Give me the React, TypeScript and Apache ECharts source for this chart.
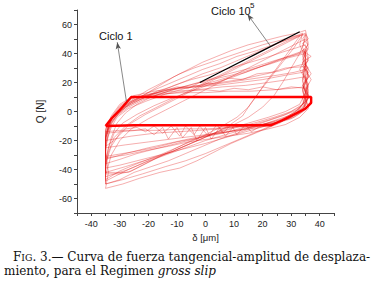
import React, { useEffect, useRef } from 'react';
import * as echarts from 'echarts';

// ---- data ----
const xTicks = [-40, -30, -20, -10, 0, 10, 20, 30, 40];
const yTicks = [-60, -40, -20, 0, 20, 40, 60];

const cycle1 = [[-35,-10],[-33,-5],[-30,1],[-26,10],[-15,10],[0,10],[15,10],[30,10],[37,10],[37,6],[35,2],[32,-1],[28,-5],[23,-9.5],[10,-9.5],[-10,-9.5],[-25,-9.5],[-35,-10]];
const cycle100k = [[-2,20],[8,30],[20,42],[33,55]];

const loopA = [[-35,-12],[-33,-6],[-30,0],[-27,6],[-23,10],[-16,12],[-8,13],[0,13],[8,14],[16,14],[24,15],[30,16],[35,17],[36,11],[35,4],[33,-1],[29,-5],[24,-8],[16,-10],[8,-11],[0,-12],[-8,-12],[-16,-13],[-24,-13],[-30,-14],[-35,-15],[-35,-12]];
const loopB = [[-35,-15],[-33,-7],[-30,-1],[-27,5],[-22,10],[-15,14],[-8,17],[-2,18],[5,20],[12,22],[19,25],[26,28],[31,31],[35,33],[36,25],[34,18],[36,10],[34,3],[31,-2],[26,-7],[19,-11],[12,-13],[4,-15],[-4,-17],[-12,-19],[-20,-21],[-28,-23],[-35,-25],[-35,-15]];
const loopC = [[-35,-20],[-34,-10],[-32,-3],[-28,3],[-23,8],[-17,13],[-11,18],[-5,22],[1,25],[7,29],[14,33],[21,37],[27,41],[32,44],[35,46],[36,37],[34,28],[36,19],[35,10],[36,3],[32,-2],[27,-6],[21,-10],[14,-14],[7,-18],[0,-22],[-8,-26],[-16,-30],[-24,-34],[-30,-37],[-35,-39],[-35,-20]];
const loopD = [[-35,-28],[-34,-12],[-33,-4],[-30,1],[-26,6],[-21,12],[-16,18],[-11,24],[-6,29],[-1,34],[4,38],[9,42],[15,46],[21,49],[27,52],[32,54],[35,56],[36,47],[34,38],[36,29],[35,20],[36,11],[35,4],[31,-2],[26,-8],[21,-12],[15,-17],[9,-22],[3,-28],[-3,-34],[-9,-39],[-16,-42],[-23,-46],[-29,-50],[-35,-53],[-34,-42],[-35,-28]];
const loopE = [[-35,-25],[-33,-8],[-31,-2],[-27,4],[-22,9],[-17,14],[-12,17],[-7,21],[-1,26],[5,30],[11,35],[17,40],[23,45],[29,50],[34,54],[33,46],[35,37],[33,29],[35,22],[34,14],[35,7],[32,1],[27,-3],[21,-7],[14,-12],[7,-16],[0,-20],[-7,-25],[-14,-30],[-21,-35],[-27,-40],[-35,-45],[-35,-25]];
const loopF = [[-35,-17],[-33,-8],[-30,0],[-26,6],[-21,10],[-14,12],[-7,14],[0,15],[5,14],[10,16],[15,15],[20,17],[25,15],[30,17],[35,16],[35,9],[36,2],[33,-4],[28,-9],[22,-12],[15,-15],[8,-17],[1,-19],[-6,-21],[-13,-24],[-21,-27],[-28,-30],[-35,-32],[-35,-17]];
const loopG = [[-35,-36],[-33,-24],[-30,-15],[-26,-8],[-21,-2],[-15,4],[-9,10],[-3,16],[3,22],[10,29],[17,36],[24,43],[30,49],[34,53],[31,44],[27,34],[23,24],[19,14],[16,6],[13,-3],[8,-10],[2,-16],[-5,-22],[-12,-28],[-20,-33],[-28,-38],[-35,-42],[-35,-36]];
const loopH = [[-35,-22],[-33,-11],[-31,-4],[-27,2],[-21,7],[-14,12],[-7,16],[0,19],[7,23],[14,27],[21,32],[28,37],[35,41],[35,31],[34,21],[35,12],[34,5],[30,0],[24,-4],[17,-8],[9,-12],[2,-16],[-4,-21],[-11,-27],[-17,-32],[-23,-38],[-27,-42],[-31,-42],[-35,-42],[-35,-22]];
const loopI = [[-35,-14],[-33,-4],[-30,4],[-26,9],[-19,12],[-11,14],[-3,15],[6,17],[14,18],[22,20],[29,22],[35,24],[36,15],[35,6],[34,0],[30,-5],[25,-8],[20,-10],[15,-11],[10,-10],[7,-17],[5,-11],[2,-19],[0,-11],[-3,-20],[-5,-11],[-8,-18],[-10,-11],[-13,-19],[-15,-11],[-18,-16],[-21,-12],[-25,-13],[-30,-13],[-35,-14]];
const loopJ = [[-35,-33],[-33,-18],[-31,-8],[-28,-1],[-24,5],[-19,10],[-13,14],[-6,18],[1,22],[8,26],[16,30],[24,35],[31,39],[35,42],[34,33],[36,24],[34,16],[35,8],[33,2],[29,-3],[23,-7],[17,-11],[11,-15],[5,-19],[-1,-24],[-7,-29],[-13,-34],[-19,-38],[-25,-42],[-30,-47],[-35,-50],[-35,-33]];
const loopK = [[-35,-18],[-33,-6],[-30,2],[-25,8],[-19,14],[-13,19],[-7,24],[-1,29],[5,33],[11,38],[18,42],[25,47],[31,51],[35,54],[36,50],[34,47],[36,43],[34,39],[36,35],[34,31],[36,27],[34,23],[36,19],[35,14],[36,9],[33,3],[28,-2],[22,-6],[15,-10],[8,-14],[0,-17],[-8,-21],[-16,-25],[-24,-29],[-30,-33],[-35,-36],[-35,-18]];
const loopL = [[-35,-40],[-34,-28],[-32,-18],[-28,-10],[-23,-3],[-17,3],[-11,9],[-5,15],[1,21],[8,28],[15,35],[22,42],[28,48],[33,52],[29,41],[25,30],[21,20],[18,11],[15,3],[11,-4],[5,-11],[-2,-18],[-9,-24],[-16,-30],[-24,-36],[-30,-41],[-35,-47],[-35,-40]];
const loopM = [[-35,-18],[-33,-9],[-31,-3],[-27,3],[-22,8],[-16,12],[-10,16],[-4,19],[2,22],[9,25],[16,29],[23,33],[29,37],[35,40],[35,32],[36,24],[34,15],[35,7],[32,0],[27,-5],[20,-9],[13,-12],[6,-15],[-2,-18],[-10,-21],[-18,-25],[-26,-28],[-35,-31],[-35,-18]];
const loopN = [[-35,-22],[-34,-9],[-32,-2],[-29,4],[-25,9],[-20,15],[-15,20],[-9,26],[-4,30],[2,34],[8,38],[14,42],[20,46],[26,49],[31,52],[35,53],[34,44],[36,36],[34,27],[36,17],[34,9],[35,2],[30,-4],[24,-9],[18,-14],[12,-19],[6,-24],[0,-29],[-7,-34],[-14,-38],[-22,-43],[-29,-47],[-35,-50],[-35,-22]];
const loopO = [[-35,-16],[-33,-6],[-30,1],[-26,7],[-21,11],[-15,14],[-10,17],[-6,16],[-2,20],[3,19],[8,23],[13,22],[18,26],[23,27],[28,30],[35,31],[35,22],[36,13],[34,5],[31,-1],[26,-6],[20,-9],[14,-12],[7,-14],[1,-16],[-6,-19],[-13,-22],[-20,-25],[-28,-29],[-35,-33],[-35,-16]];
const loopP = [[-35,-44],[-33,-30],[-30,-20],[-26,-12],[-20,-5],[-14,1],[-8,7],[-2,13],[5,20],[12,27],[19,34],[26,41],[32,47],[35,50],[33,40],[30,30],[27,20],[24,11],[20,3],[15,-4],[9,-10],[3,-15],[-4,-21],[-11,-27],[-19,-33],[-27,-40],[-35,-48],[-35,-44]];
const loopQ = [[-35,-38],[-34,-25],[-32,-15],[-29,-8],[-24,-2],[-18,4],[-12,9],[-5,14],[2,19],[10,24],[18,30],[26,36],[33,41],[35,43],[35,33],[34,22],[35,13],[33,5],[28,0],[22,-4],[15,-8],[8,-12],[1,-16],[-5,-20],[-10,-25],[-16,-31],[-21,-36],[-26,-41],[-30,-43],[-35,-43],[-35,-38]];
const loopR = [[-35,-13],[-33,-3],[-30,5],[-25,11],[-18,14],[-10,16],[-3,17],[4,19],[11,21],[18,23],[25,25],[31,27],[35,29],[37,22],[35,15],[37,8],[35,1],[31,-4],[26,-7],[19,-9],[12,-10],[5,-12],[-2,-13],[-10,-14],[-18,-15],[-26,-17],[-35,-20],[-35,-13]];
const loopS = [[-35,-16],[-33,-5],[-30,3],[-26,9],[-20,12],[-12,15],[-4,17],[4,18],[12,20],[20,22],[28,25],[34,27],[36,30],[34,34],[37,38],[34,42],[36,46],[34,50],[35,53],[36,44],[34,36],[37,26],[34,18],[36,9],[34,2],[30,-4],[25,-8],[20,-9],[16,-14],[14,-9],[11,-16],[9,-9],[6,-15],[4,-9],[1,-17],[-2,-10],[-4,-16],[-7,-10],[-9,-17],[-12,-10],[-15,-15],[-18,-10],[-21,-14],[-24,-11],[-28,-12],[-32,-20],[-35,-24],[-35,-16]];

const loops = [loopA, loopB, loopC, loopD, loopE, loopF, loopG, loopH, loopI, loopJ, loopK, loopL, loopM, loopN, loopO, loopP, loopQ, loopR, loopS];

// annotation arrows: [tip (near label), base (on curve)]
const ciclo1Arrow = [[-30.9, 47.8], [-27.7, 7.1]];
const ciclo100kArrow = [[14.7, 67.1], [22.8, 45.0]];

export default function App() {
  const ref = useRef<HTMLDivElement>(null);
  useEffect(() => {
    const chart = echarts.init(ref.current!, null, { renderer: 'svg' });
    const thin = { color: 'rgba(226,22,22,0.5)', width: 0.7 };
    const series: any[] = loops.map((d, i) => ({
      type: 'line', name: 'loop' + i, data: d, symbol: 'none', showSymbol: false,
      lineStyle: thin, silent: true, z: 2,
    }));
    series.push({
      type: 'line', name: 'cycle1', data: cycle1, symbol: 'none', silent: true,
      lineStyle: { color: '#ff0000', width: 2.4 }, z: 3,
    });
    series.push({
      type: 'line', name: 'cycle100k', data: cycle100k, symbol: 'none', silent: true,
      lineStyle: { color: '#000', width: 1.3 }, z: 4,
      markLine: {
        silent: true, animation: false,
        symbol: ['arrow', 'none'], symbolSize: [4, 7],
        label: { show: false },
        lineStyle: { color: '#555', width: 0.7, type: 'solid' },
        data: [
          [{ coord: ciclo1Arrow[0] }, { coord: ciclo1Arrow[1] }],
          [{ coord: ciclo100kArrow[0] }, { coord: ciclo100kArrow[1] }],
        ],
      },
    });
    const sans = 'Liberation Sans, Arial, sans-serif';
    const labelFont = { fontSize: 9, color: '#222', fontFamily: sans };
    chart.setOption({
      animation: false,
      backgroundColor: '#fff',
      grid: { left: 77, top: 10, width: 257, height: 203 },
      xAxis: {
        type: 'value', min: -45, max: 45, interval: 5,
        name: 'δ [μm]', nameLocation: 'middle', nameGap: 18,
        nameTextStyle: { fontSize: 9.5, color: '#222', fontFamily: sans },
        axisLine: { onZero: false, lineStyle: { color: '#444', width: 1 } },
        axisTick: { length: 3, lineStyle: { color: '#444' } },
        axisLabel: { ...labelFont, margin: 6, formatter: (v: number) => (xTicks.includes(v) ? String(v) : '') },
        splitLine: { show: false },
      },
      yAxis: {
        type: 'value', min: -70, max: 70, interval: 10,
        name: 'Q [N]', nameLocation: 'middle', nameGap: 32, nameRotate: 90,
        nameTextStyle: { fontSize: 10, color: '#222', fontFamily: sans },
        axisLine: { onZero: false, lineStyle: { color: '#444', width: 1 } },
        axisTick: { length: 3, lineStyle: { color: '#444' } },
        axisLabel: { ...labelFont, margin: 5, formatter: (v: number) => (yTicks.includes(v) ? String(v) : '') },
        splitLine: { show: false },
      },
      series,
      graphic: [
        { type: 'text', x: 99, y: 36, style: { text: 'Ciclo 1', fontSize: 11, fill: '#111', fontFamily: sans, verticalAlign: 'middle' } },
        { type: 'text', x: 211, y: 11, style: { text: 'Ciclo 10', fontSize: 11, fill: '#111', fontFamily: sans, verticalAlign: 'middle' } },
        { type: 'text', x: 250, y: 5, style: { text: '5', fontSize: 8, fill: '#111', fontFamily: sans, verticalAlign: 'middle' } },
        {
          type: 'text', x: 13, y: 257,
          style: {
            text: '{a|F}{b|IG}{c|. 3.— Curva de fuerza tangencial-amplitud de desplaza-}',
            verticalAlign: 'middle',
            rich: {
              a: { fontSize: 12, fontFamily: 'DejaVu Serif', fill: '#111' },
              b: { fontSize: 9.3, fontFamily: 'DejaVu Serif', fill: '#111' },
              c: { fontSize: 12, fontFamily: 'DejaVu Serif', fill: '#111' },
            },
          },
        },
        {
          type: 'text', x: 4, y: 271,
          style: {
            text: '{c|miento, para el Regimen }{i|gross slip}',
            verticalAlign: 'middle',
            rich: {
              c: { fontSize: 12, fontFamily: 'DejaVu Serif', fill: '#111' },
              i: { fontSize: 12, fontFamily: 'DejaVu Serif', fontStyle: 'italic', fill: '#111' },
            },
          },
        },
      ],
    });
    return () => chart.dispose();
  }, []);
  return <div ref={ref} style={{ position: 'fixed', left: 0, top: 0, width: 377, height: 283, background: '#fff' }} />;
}
